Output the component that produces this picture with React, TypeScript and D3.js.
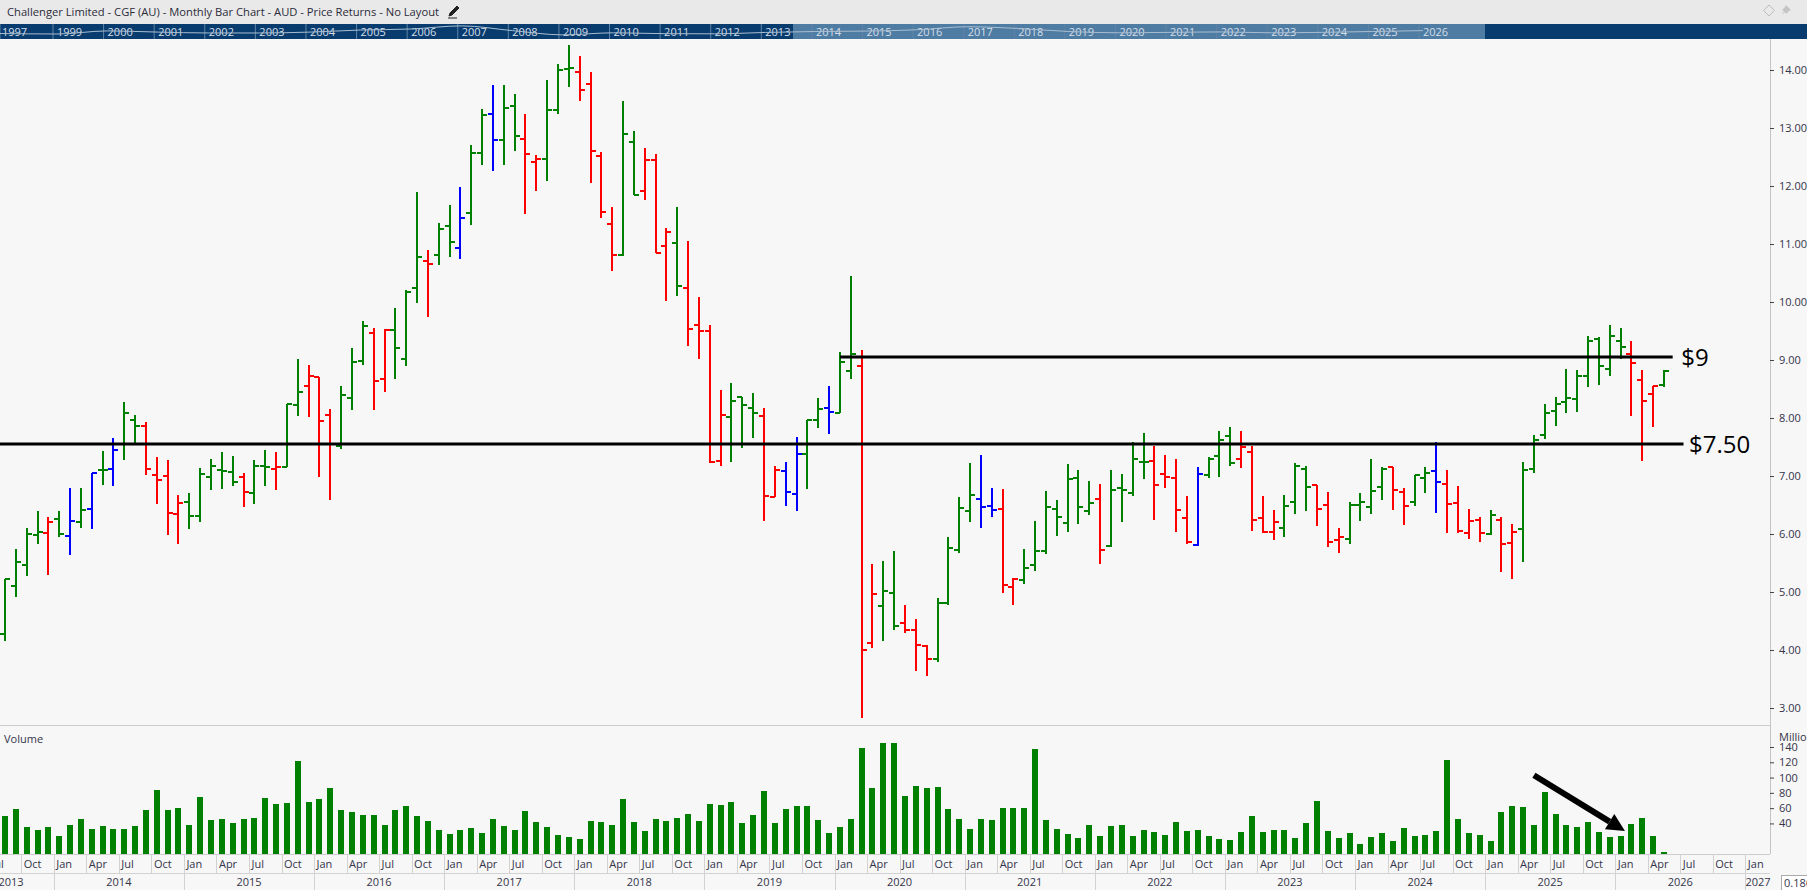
import { useEffect, useRef } from 'react'
import * as d3 from 'd3'

const WIDTH = 1807
const HEIGHT = 890
const FONT = '"Open Sans", sans-serif'

const TITLE = 'Challenger Limited - CGF (AU) - Monthly Bar Chart - AUD - Price Returns - No Layout'

// Monthly bars, Aug 2013 to May 2026
const barHigh = [
  5.22, 5.75, 6.10, 6.39, 6.29, 6.39, 6.79, 6.80, 7.06, 7.43, 7.65, 8.27, 8.05, 7.93, 7.32, 7.27, 6.68, 6.70, 7.13, 7.30,
  7.41, 7.34, 7.06, 7.27, 7.44, 7.41, 8.25, 9.01, 8.91, 8.71, 8.15, 8.56, 9.20, 9.67, 9.55, 9.53, 9.89, 10.20, 11.90, 10.89,
  11.36, 11.68, 11.98, 12.70, 13.32, 13.74, 13.75, 13.58, 13.25, 12.53, 13.82, 14.10, 14.43, 14.25, 13.96, 12.58, 11.63, 13.46, 12.94, 12.65,
  12.56, 11.27, 11.63, 11.05, 10.08, 9.61, 8.48, 8.61, 8.37, 8.43, 8.17, 7.17, 7.24, 7.68, 7.97, 8.34, 8.56, 9.14, 10.45, 9.17,
  5.49, 5.53, 5.70, 4.77, 4.53, 4.09, 4.89, 5.94, 6.63, 7.22, 7.37, 6.79, 6.77, 5.25, 5.74, 6.22, 6.74, 6.58, 7.20, 7.10,
  6.91, 6.87, 7.11, 7.03, 7.58, 7.74, 7.52, 7.37, 7.30, 6.65, 7.15, 7.32, 7.77, 7.84, 7.77, 7.52, 6.65, 6.41, 6.67, 7.23,
  7.18, 6.85, 6.72, 6.11, 6.56, 6.70, 7.29, 7.16, 7.16, 6.79, 7.02, 7.15, 7.58, 7.10, 6.82, 6.43, 6.30, 6.41, 6.29, 6.18,
  7.24, 7.70, 8.24, 8.37, 8.84, 8.82, 9.41, 9.39, 9.60, 9.55, 9.32, 8.82, 8.56, 8.82,
]
const barLow = [
  4.16, 4.92, 5.28, 5.82, 5.30, 5.95, 5.63, 6.11, 6.09, 6.84, 6.82, 7.28, 7.55, 7.01, 6.52, 5.99, 5.82, 6.09, 6.21, 6.76,
  6.78, 6.82, 6.47, 6.52, 6.83, 6.76, 7.16, 8.04, 8.01, 6.99, 6.59, 7.47, 8.13, 8.92, 8.14, 8.44, 8.68, 8.89, 9.99, 9.75,
  10.63, 10.78, 10.75, 11.33, 12.37, 12.26, 12.37, 12.61, 11.52, 11.92, 12.09, 13.25, 13.71, 13.47, 12.06, 11.45, 10.54, 10.80, 11.84, 11.76,
  10.84, 10.01, 10.11, 9.25, 9.02, 7.22, 7.18, 7.25, 7.49, 7.66, 6.23, 6.63, 6.49, 6.40, 6.78, 7.82, 7.73, 8.09, 8.68, 2.83,
  4.04, 4.16, 4.35, 4.30, 3.64, 3.56, 3.80, 4.78, 5.67, 6.21, 6.11, 6.30, 4.99, 4.78, 5.13, 5.37, 5.66, 5.97, 6.04, 6.18,
  6.33, 5.49, 5.78, 6.20, 6.66, 6.95, 6.25, 6.80, 6.04, 5.83, 5.80, 6.97, 6.99, 7.18, 7.13, 6.06, 6.01, 5.89, 5.94, 6.34,
  6.39, 6.13, 5.78, 5.68, 5.82, 6.23, 6.35, 6.59, 6.42, 6.16, 6.49, 6.70, 6.37, 6.01, 6.01, 5.92, 5.87, 5.99, 5.35, 5.23,
  5.52, 7.06, 7.64, 7.87, 8.09, 8.11, 8.54, 8.57, 8.73, 9.01, 8.04, 7.26, 7.85, 8.53,
]
const barOpen = [
  4.28, 5.10, 5.47, 5.98, 6.02, 6.26, 5.97, 6.21, 6.43, 7.10, 7.12, 7.55, 7.97, 7.86, 7.02, 7.00, 6.34, 6.55, 6.31, 6.98,
  7.10, 7.07, 6.98, 6.71, 7.17, 7.12, 7.16, 8.22, 8.55, 8.71, 8.05, 7.51, 8.34, 8.98, 9.47, 8.67, 9.52, 9.02, 10.24, 10.71,
  10.81, 11.31, 10.93, 11.53, 12.57, 13.24, 12.79, 13.38, 12.81, 12.41, 12.47, 13.31, 14.02, 13.97, 13.75, 12.52, 11.34, 10.81, 12.76, 11.91,
  12.45, 10.97, 11.02, 10.24, 9.60, 9.50, 7.26, 8.02, 8.36, 8.17, 8.03, 6.64, 7.09, 6.69, 7.38, 7.97, 8.17, 8.09, 8.81, 8.90,
  4.12, 4.76, 4.98, 4.47, 4.34, 4.07, 3.84, 4.81, 5.72, 6.40, 6.60, 6.48, 6.43, 5.09, 5.21, 5.47, 5.71, 6.43, 6.19, 6.97,
  6.40, 6.60, 5.79, 6.79, 6.71, 7.24, 7.26, 7.03, 6.97, 6.28, 5.81, 7.02, 7.34, 7.69, 7.29, 7.41, 6.28, 6.03, 6.10, 6.55,
  7.12, 6.84, 6.50, 5.90, 5.91, 6.50, 6.47, 6.81, 7.16, 6.72, 6.55, 6.97, 7.09, 6.86, 6.53, 6.02, 6.24, 6.00, 6.24, 5.84,
  6.09, 7.12, 7.71, 8.12, 8.28, 8.33, 8.72, 9.36, 8.84, 9.33, 9.10, 8.66, 8.41, 8.57,
]
const barClose = [
  5.22, 5.51, 6.00, 6.03, 6.21, 6.00, 6.22, 6.41, 7.05, 7.10, 7.45, 8.09, 7.86, 7.12, 6.93, 6.36, 6.53, 6.31, 7.03, 7.17,
  7.09, 6.90, 6.72, 7.17, 7.16, 7.16, 8.24, 8.45, 8.73, 7.95, 7.55, 8.40, 8.97, 9.59, 8.64, 9.52, 9.21, 10.18, 10.78, 10.66,
  11.26, 11.03, 11.45, 12.57, 13.22, 12.79, 13.34, 12.86, 12.55, 12.47, 13.31, 14.00, 14.03, 13.66, 12.60, 11.55, 10.81, 12.90, 11.85, 12.45,
  10.85, 11.21, 10.28, 9.53, 9.50, 7.24, 8.05, 8.29, 8.22, 8.09, 6.66, 7.10, 6.72, 7.38, 7.97, 8.16, 8.10, 8.97, 9.10, 4.00,
  4.97, 5.02, 4.41, 4.34, 4.09, 3.84, 4.81, 5.76, 6.45, 6.67, 6.47, 6.41, 5.12, 5.22, 5.41, 5.71, 6.47, 6.29, 6.95, 6.47,
  6.53, 5.72, 6.76, 6.76, 7.29, 7.24, 6.84, 6.98, 6.41, 5.86, 7.03, 7.29, 7.62, 7.22, 7.50, 6.24, 6.03, 6.21, 6.48, 7.17,
  6.81, 6.43, 5.86, 5.95, 6.50, 6.55, 6.74, 7.12, 6.76, 6.48, 7.02, 7.05, 6.90, 6.52, 6.05, 6.22, 6.02, 6.33, 5.83, 6.03,
  7.10, 7.62, 8.09, 8.24, 8.34, 8.72, 9.33, 8.90, 9.41, 9.22, 8.94, 8.29, 8.55, 8.81,
]
const barColour = [
  'g', 'g', 'g', 'g', 'r', 'g', 'b', 'g', 'b', 'g', 'b', 'g', 'g', 'r', 'r', 'r', 'r', 'g', 'g', 'g',
  'g', 'g', 'r', 'g', 'g', 'r', 'g', 'g', 'r', 'r', 'r', 'g', 'g', 'g', 'r', 'r', 'g', 'g', 'g', 'r',
  'g', 'g', 'b', 'g', 'g', 'b', 'g', 'g', 'r', 'r', 'g', 'g', 'g', 'r', 'r', 'r', 'r', 'g', 'g', 'r',
  'r', 'r', 'g', 'r', 'r', 'r', 'r', 'g', 'g', 'g', 'r', 'r', 'b', 'b', 'g', 'g', 'b', 'g', 'g', 'r',
  'r', 'g', 'g', 'r', 'r', 'r', 'g', 'g', 'g', 'g', 'b', 'b', 'r', 'r', 'g', 'g', 'g', 'g', 'g', 'g',
  'g', 'r', 'g', 'g', 'g', 'g', 'r', 'r', 'r', 'r', 'b', 'g', 'g', 'g', 'r', 'r', 'r', 'r', 'g', 'g',
  'g', 'r', 'r', 'r', 'g', 'g', 'g', 'g', 'r', 'r', 'g', 'g', 'b', 'r', 'r', 'r', 'r', 'g', 'r', 'r',
  'g', 'g', 'g', 'g', 'g', 'g', 'g', 'g', 'g', 'g', 'r', 'r', 'r', 'g',
]
const volumes = [
  49.7, 58.9, 35.3, 31.4, 35.3, 23.6, 38, 45.8, 32.7, 36.6, 32.7, 32.7, 36.6, 57.6, 83.8, 57.6, 60.2, 38, 74.6, 44.5,
  45.8, 40.6, 45.8, 47.1, 73.3, 65.4, 66.8, 121.7, 68.1, 72, 86.4, 57.6, 55, 51, 51, 38, 57.6, 62.8, 49.7, 43.2,
  31.4, 26.2, 31.4, 34, 27.5, 45.8, 36.6, 31.4, 56.3, 41.9, 35.3, 24.9, 22.3, 19.6, 43.2, 41.9, 38, 72, 41.9, 30.1,
  45.8, 43.2, 47.1, 52.4, 43.2, 65.4, 64.1, 68.1, 40.6, 51, 82.5, 40.6, 58.9, 62.8, 62.8, 44.5, 27.5, 35.3, 45.8, 138.7,
  86.4, 145.3, 145.3, 75.9, 89, 86.4, 87.7, 58.9, 45.8, 32.7, 45.8, 44.5, 60.2, 60.2, 60.2, 137.4, 44.5, 32.7, 26.2, 20.9,
  38, 23.6, 36.6, 38, 23.6, 31.4, 28.8, 24.9, 41.9, 30.1, 31.4, 23.6, 19.6, 18.3, 28.8, 49.7, 28.8, 31.4, 31.4, 20.9,
  40.6, 69.4, 30.1, 20.9, 27.5, 13.1, 22.3, 27.5, 17, 34, 23.6, 24.9, 30.1, 123, 45.8, 27.5, 24.9, 17, 55, 62.8,
  61.5, 38, 81.2, 52.4, 38, 35.3, 41.9, 28.8, 22.3, 23.6, 39.3, 47.1, 23.6, 2.6,
]

const priceTicks = [3, 4, 5, 6, 7, 8, 9, 10, 11, 12, 13, 14]
const volumeTicks = [40, 60, 80, 100, 120, 140]
const quarterNames = ['Jul', 'Oct', 'Jan', 'Apr']
const yearNames = [2013, 2014, 2015, 2016, 2017, 2018, 2019, 2020, 2021, 2022, 2023, 2024, 2025, 2026, 2027]

// Overview strip along the top
const navYears = [1997, 1999, 2000, 2001, 2002, 2003, 2004, 2005, 2006, 2007, 2008, 2009, 2010, 2011, 2012, 2013, 2014, 2015, 2016, 2017, 2018, 2019, 2020, 2021, 2022, 2023, 2024, 2025, 2026]
const navPrice = [5.2, 4.6, 8.2, 6.8, 5.8, 5.8, 6.8, 9.2, 10.4, 14, 8.5, 3.6, 6, 5, 4.8, 6.4, 7.5, 8, 9.5, 13, 11, 7.5, 6, 6.5, 7, 6, 6.5, 7.5, 8.5]

const levels = [
  { value: 7.55, from: -1, to: 154.8, label: '$7.50', labelAt: 155.3 },
  { value: 9.05, from: 77, to: 153.8, label: '$9', labelAt: 154.6 },
]

const colours: Record<string, string> = { g: '#008000', r: '#ff0000', b: '#0000ff' }

export default function App() {
  const svgRef = useRef<SVGSVGElement>(null)

  useEffect(() => {
    if (!svgRef.current) return
    const svg = d3.select(svgRef.current)
    svg.selectAll('*').remove()

    const axisX = 1770
    const x = d3.scaleLinear().domain([0, 153]).range([5, 1664])
    const yPrice = d3.scaleLinear().domain([3, 14]).range([708, 70])
    const yVol = d3.scaleLinear().domain([0, 140]).range([854, 747])
    const px = (i: number) => Math.round(x(i))

    svg.append('rect').attr('width', WIDTH).attr('height', HEIGHT).attr('fill', '#f7f7f7')

    // Title bar
    svg.append('rect').attr('width', WIDTH).attr('height', 24).attr('fill', '#e9e9e9')
    svg.append('text').attr('x', 7).attr('y', 16).attr('font-size', 11.2).attr('fill', '#2b2b3a').text(TITLE)
    svg.append('path')
      .attr('d', 'M449 16l1-3 7-7 2 2-7 7-3 1zM448 18h9')
      .attr('fill', '#222').attr('stroke', '#222').attr('stroke-width', 1)
    svg.append('path')
      .attr('d', 'M1769 5l5.5 5.5-5.5 5.5-5.5-5.5z')
      .attr('fill', 'none').attr('stroke', '#bbb')
    svg.append('path')
      .attr('d', 'M1786 5l5 5-2 1-3 3-1-2-3 3 2-4-2-1 3-3z')
      .attr('fill', '#c4c4c4')

    // Overview strip
    const navX = d3.scaleLinear().domain([1999, 2026]).range([57, 1423])
    const navY = d3.scaleLinear().domain([0, 15]).range([38, 25])
    svg.append('rect').attr('y', 24).attr('width', WIDTH).attr('height', 15).attr('fill', '#083c6e')
    svg.append('rect').attr('x', 793).attr('y', 24).attr('width', 692).attr('height', 15).attr('fill', '#4f7ca3')
    svg.append('g').selectAll('line').data(navYears).enter().append('line')
      .attr('x1', d => (d === 1997 ? 0 : navX(d) - 4)).attr('x2', d => (d === 1997 ? 0 : navX(d) - 4))
      .attr('y1', 24).attr('y2', 39).attr('stroke', '#5f83a6')
    svg.append('g').selectAll('text').data(navYears).enter().append('text')
      .attr('x', d => (d === 1997 ? 2 : navX(d)))
      .attr('y', 36).attr('font-size', 11).attr('fill', '#d5dfe9')
      .text(d => d)
    const navLine = d3.line<number>()
      .x((_d, i) => (i === 0 ? 0 : navX(navYears[i])))
      .y(d => navY(d))
      .curve(d3.curveMonotoneX)
    svg.append('path').attr('d', navLine(navPrice)).attr('fill', 'none').attr('stroke', '#a9bdd0').attr('stroke-width', 1)

    // Panel frame
    svg.append('line').attr('x1', 0).attr('x2', axisX).attr('y1', 725.5).attr('y2', 725.5).attr('stroke', '#cdcdcd')
    svg.append('line').attr('x1', 0).attr('x2', axisX).attr('y1', 854.5).attr('y2', 854.5).attr('stroke', '#cdcdcd')
    svg.append('line').attr('x1', axisX + 0.5).attr('x2', axisX + 0.5).attr('y1', 39).attr('y2', 854).attr('stroke', '#c4c4c4')

    // Price axis
    const priceAxis = d3.axisRight(yPrice).tickValues(priceTicks).tickFormat(d3.format('.2f') as any).tickSize(4).tickPadding(5)
    const priceG = svg.append('g').attr('transform', `translate(${axisX},0)`).call(priceAxis as any)
    priceG.select('.domain').remove()
    priceG.selectAll('line').attr('stroke', '#444')
    priceG.selectAll('text').attr('font-size', 11).attr('font-family', FONT).attr('fill', '#34344a')

    // Price bars
    const bars = barHigh.map((high, i) => ({
      i, high, low: barLow[i], open: barOpen[i], close: barClose[i], colour: colours[barColour[i]],
    }))
    const barG = svg.append('g').attr('stroke-width', 2).attr('shape-rendering', 'crispEdges')
    const bar = barG.selectAll('g').data(bars).enter().append('g').attr('stroke', d => d.colour)
    bar.append('line').attr('x1', d => px(d.i)).attr('x2', d => px(d.i)).attr('y1', d => yPrice(d.high)).attr('y2', d => yPrice(d.low))
    bar.append('line').attr('x1', d => px(d.i) - 5).attr('x2', d => px(d.i)).attr('y1', d => Math.round(yPrice(d.open))).attr('y2', d => Math.round(yPrice(d.open)))
    bar.append('line').attr('x1', d => px(d.i)).attr('x2', d => px(d.i) + 5).attr('y1', d => Math.round(yPrice(d.close))).attr('y2', d => Math.round(yPrice(d.close)))

    // Horizontal levels
    const levelG = svg.append('g').selectAll('g').data(levels).enter().append('g')
    levelG.append('line')
      .attr('x1', d => x(d.from)).attr('x2', d => x(d.to))
      .attr('y1', d => yPrice(d.value)).attr('y2', d => yPrice(d.value))
      .attr('stroke', '#000').attr('stroke-width', 3)
    levelG.append('text')
      .attr('x', d => x(d.labelAt)).attr('y', d => yPrice(d.value) + 8.5)
      .attr('font-size', 24).attr('fill', '#000').text(d => d.label)

    // Volume panel
    svg.append('text').attr('x', 4).attr('y', 743).attr('font-size', 11).attr('fill', '#34344a').text('Volume')
    svg.append('g').selectAll('rect').data(volumes).enter().append('rect')
      .attr('x', (_d, i) => px(i) - 3).attr('width', 6)
      .attr('y', d => yVol(d)).attr('height', d => yVol(0) - yVol(d))
      .attr('fill', '#008000').attr('shape-rendering', 'crispEdges')

    const volAxis = d3.axisRight(yVol).tickValues(volumeTicks).tickSize(4).tickPadding(5)
    const volG = svg.append('g').attr('transform', `translate(${axisX},0)`).call(volAxis as any)
    volG.select('.domain').remove()
    volG.selectAll('line').attr('stroke', '#444')
    volG.selectAll('text').attr('font-size', 11).attr('font-family', FONT).attr('fill', '#34344a')
    svg.append('text').attr('x', 1779).attr('y', 741).attr('font-size', 11).attr('fill', '#34344a').text('Millions')

    // Arrow on the volume panel
    const arrowStart: [number, number] = [x(141), yVol(103)]
    const arrowEnd: [number, number] = [x(149.4), yVol(30)]
    const angle = Math.atan2(arrowEnd[1] - arrowStart[1], arrowEnd[0] - arrowStart[0])
    const headLen = 18
    const headHalf = 9
    const neck: [number, number] = [arrowEnd[0] - headLen * Math.cos(angle), arrowEnd[1] - headLen * Math.sin(angle)]
    svg.append('line')
      .attr('x1', arrowStart[0]).attr('y1', arrowStart[1]).attr('x2', neck[0]).attr('y2', neck[1])
      .attr('stroke', '#000').attr('stroke-width', 6)
    svg.append('path')
      .attr('d', `M${arrowEnd[0]} ${arrowEnd[1]}L${neck[0] - headHalf * Math.sin(angle)} ${neck[1] + headHalf * Math.cos(angle)}L${neck[0] + headHalf * Math.sin(angle)} ${neck[1] - headHalf * Math.cos(angle)}Z`)
      .attr('fill', '#000')

    // Date axis, quarter row
    const quarterIdx = d3.range(-1, 162, 3)
    const dateG = svg.append('g')
    dateG.selectAll('line.q').data(quarterIdx).enter().append('line').attr('class', 'q')
      .attr('x1', d => Math.round(x(d - 0.5)) + 0.5).attr('x2', d => Math.round(x(d - 0.5)) + 0.5)
      .attr('y1', 854).attr('y2', 873).attr('stroke', '#d2d2d2')
    dateG.selectAll('text.q').data(quarterIdx).enter().append('text').attr('class', 'q')
      .attr('x', d => x(d - 0.5) + 2.5).attr('y', 868).attr('font-size', 11).attr('fill', '#34344a')
      .text((_d, i) => quarterNames[i % 4])

    // Date axis, year row
    svg.append('line').attr('x1', 0).attr('x2', axisX).attr('y1', 873.5).attr('y2', 873.5).attr('stroke', '#d2d2d2')
    const yearStart = (yr: number) => x(5 + (yr - 2014) * 12 - 0.5)
    dateG.selectAll('line.y').data(yearNames.slice(1)).enter().append('line').attr('class', 'y')
      .attr('x1', d => Math.round(yearStart(d)) + 0.5).attr('x2', d => Math.round(yearStart(d)) + 0.5)
      .attr('y1', 874).attr('y2', HEIGHT).attr('stroke', '#d2d2d2')
    dateG.selectAll('text.y').data(yearNames).enter().append('text').attr('class', 'y')
      .attr('x', d => (d === 2013 ? 11 : d === 2027 ? 1758 : yearStart(d) + (yearStart(d + 1) - yearStart(d)) / 2))
      .attr('y', 886).attr('text-anchor', 'middle').attr('font-size', 11).attr('fill', '#34344a')
      .text(d => d)

    // Scale box in the corner
    svg.append('rect').attr('x', 1781.5).attr('y', 875.5).attr('width', 40).attr('height', 20).attr('fill', '#fff').attr('stroke', '#aaa')
    svg.append('text').attr('x', 1784).attr('y', 887).attr('font-size', 11).attr('fill', '#34344a').text('0.186')
  }, [])

  return (
    <>
      <style>{'body{margin:0;overflow:hidden}'}</style>
      <svg ref={svgRef} width={WIDTH} height={HEIGHT} style={{ display: 'block', fontFamily: FONT }} />
    </>
  )
}
